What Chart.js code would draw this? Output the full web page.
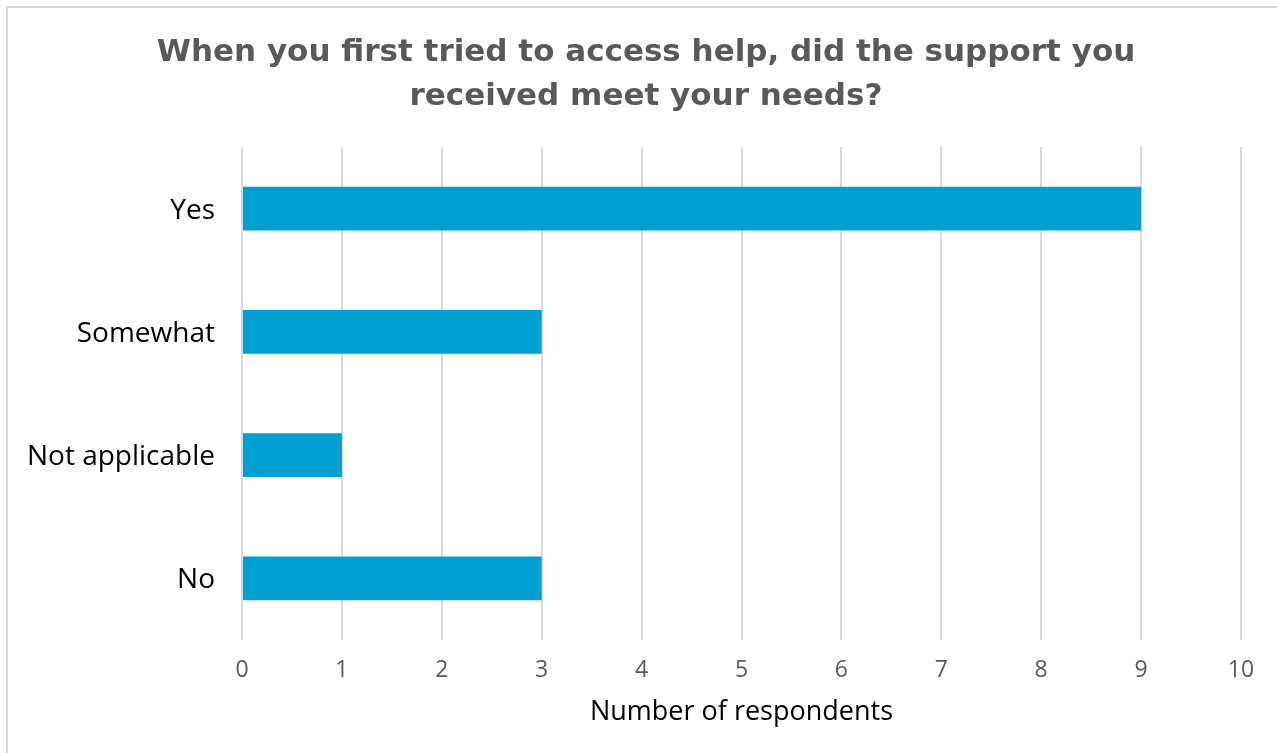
<!DOCTYPE html>
<html>
<head>
<meta charset="utf-8">
<script src="https://cdn.jsdelivr.net/npm/chart.js@4"></script>
<style>
  html, body { margin: 0; padding: 0; background: #fff; overflow: hidden; }
  #frame { position: absolute; left: 6px; top: 6px; width: 1300px; height: 800px; border: 2px solid #d9d9d9; box-sizing: border-box; }
  #wrap { position: absolute; left: 0; top: 0; width: 1277px; height: 753px; }
</style>
</head>
<body>
<div id="frame"></div>
<div id="wrap"><canvas id="myChart" width="1277" height="753"></canvas></div>
<script>
const answers = ["Yes", "Somewhat", "Not applicable", "No"];
const respondents = [9, 3, 1, 3];
const xTicks = [0, 1, 2, 3, 4, 5, 6, 7, 8, 9, 10];

const ctx = document.getElementById('myChart');

const chart = new Chart(ctx, {
    type: "bar",
    data: {
        labels: answers,
        datasets: [
            {
                label: "Respondents",
                data: respondents,
                backgroundColor: "#00A0D2",
                borderWidth: 0,
                categoryPercentage: 1,
                barPercentage: 0.355,
            },
        ],
    },
    options: {
        indexAxis: 'y',
        responsive: false,
        animation: false,
        layout: {
            padding: { left: 15, right: 0, top: 0, bottom: 0 }
        },
        plugins: {
            legend: { display: false },
            tooltip: { enabled: false },
            title: {
                display: true,
                text: ["When you first tried to access help, did the support you", "received meet your needs?"],
                color: "#595959",
                font: { family: "'DejaVu Sans', sans-serif", size: 31, weight: 'bold', lineHeight: 1.45 },
                padding: { top: 30, bottom: 27 }
            }
        },
        scales: {
            x: {
                min: 0,
                max: 10,
                afterBuildTicks: s => { s.ticks = xTicks.map(v => ({ value: v })); },
                // keep the plot's right edge clear of the frame
                afterFit: s => { s.height = 113; s.paddingRight = 36; },
                grid: { color: "#d9d9d9", lineWidth: 2, drawTicks: false },
                border: { display: false },
                ticks: {
                    color: "#595959",
                    padding: 17,
                    font: { family: "'Open Sans', sans-serif", size: 23 }
                },
                title: {
                    display: true,
                    text: "Number of respondents",
                    color: "#000",
                    font: { family: "'Open Sans', sans-serif", size: 27 },
                    padding: { top: 8, bottom: 24 }
                }
            },
            y: {
                afterFit: s => { s.width = 227; },
                grid: { display: false, drawTicks: false },
                border: { display: false },
                ticks: {
                    color: "#000",
                    padding: 27,
                    labelOffset: 2,
                    font: { family: "'Open Sans', sans-serif", size: 28 }
                }
            }
        }
    },
});
</script>
</body>
</html>
